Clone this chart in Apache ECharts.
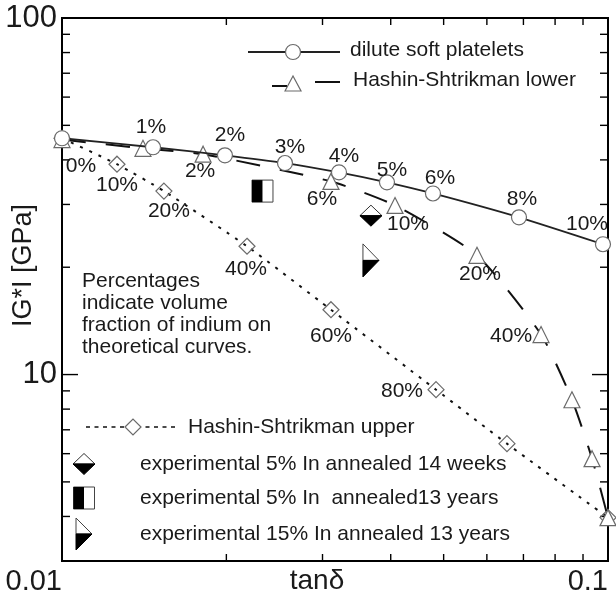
<!DOCTYPE html>
<html>
<head>
<meta charset="utf-8">
<script src="https://cdn.jsdelivr.net/npm/echarts@6/dist/echarts.min.js"></script>
<style>
html, body { margin: 0; padding: 0; background: #fff; }
#chart { width: 616px; height: 596px; }
</style>
</head>
<body>
<div id="chart"></div>
<script>
// |G*| (GPa) against tan(delta) for the three composite models
const diluteTan  = [0.0100, 0.01468, 0.01988, 0.02561, 0.03216, 0.03937, 0.0478, 0.0687, 0.0979];
const diluteG    = [46.0, 43.4, 41.2, 39.2, 36.9, 34.6, 32.2, 27.6, 23.2];
const diluteFrac = ['0%', '1%', '2%', '3%', '4%', '5%', '6%', '8%', '10%'];

const hsLowerTan  = [0.0100, 0.01407, 0.01813, 0.03109, 0.04073, 0.05755, 0.0754, 0.0859, 0.0935, 0.1000];
const hsLowerG    = [45.6, 43.1, 41.5, 34.8, 29.8, 21.6, 12.95, 8.5, 5.81, 3.97];
const hsLowerFrac = ['0%', '1%', '2%', '6%', '10%', '20%', '40%', '60%', '80%', '100%'];

const hsUpperTan  = [0.0100, 0.01261, 0.01537, 0.02182, 0.03109, 0.04842, 0.06531, 0.1000];
const hsUpperG    = [46.0, 38.9, 32.7, 22.9, 15.2, 9.07, 6.40, 3.97];
const hsUpperFrac = ['0%', '10%', '20%', '40%', '60%', '80%', '90%', '100%'];

// measured specimens [tan(delta), |G*|]
const exp5In14Weeks = [[0.0368, 27.9]];
const exp5In13Years = [[0.02329, 32.7]];
const exp15In13Years = [[0.0368, 20.9]];

// axis ranges and ticks
const xRange = [0.01, 0.1];
const yRange = [3, 100];
const xTickLabels = [0.01, 0.1];
const yTickLabels = [10, 100];
const xMinorTicks = [0.02, 0.03, 0.04, 0.05, 0.06, 0.07, 0.08, 0.09];
const yMinorTicks = [4, 5, 6, 7, 8, 9, 20, 30, 40, 50, 60, 70, 80, 90];
const yMajorTicks = [10];

// where each fraction label sits relative to its marker (px)
const labelOffsets = {
  dilute:  { '0%': [19, 28], '1%': [-2, -20], '2%': [5, -20], '3%': [5, -16], '4%': [5, -16],
             '5%': [5, -12], '6%': [7, -15], '8%': [3, -18], '10%': [-16, -20] },
  hsLower: { '2%': [-3, 17], '6%': [-9, 18], '10%': [13, 19], '20%': [3, 19], '40%': [-30, 2] },
  hsUpper: { '10%': [0, 21], '20%': [5, 20], '40%': [-1, 23], '60%': [0, 26], '80%': [-34, 2] }
};

const FONT = "'Liberation Sans', Arial, Helvetica, sans-serif";
const INK = '#1a1a1a';
const MARK = '#6a6a6a';

function points(tans, gs, fracs, offsets) {
  return tans.map((t, i) => {
    const off = offsets[fracs[i]];
    return {
      value: [t, gs[i]],
      label: off ? { show: true, position: 'inside', offset: off, formatter: fracs[i] } : { show: false }
    };
  });
}

function tickText(v, list) {
  for (const t of list) {
    if (Math.abs(Math.log10(v) - Math.log10(t)) < 1e-6) return String(t);
  }
  return '';
}

const labelStyle = { color: INK, fontSize: 21, fontFamily: FONT };

// minor/major tick marks drawn on both sides of the frame, pointing inwards
function xTickItem(len) {
  return function (params, api) {
    const v = api.value(0);
    const b = api.coord([v, yRange[0]]);
    const t = api.coord([v, yRange[1]]);
    const st = { stroke: '#000', lineWidth: 1.4 };
    return { type: 'group', children: [
      { type: 'line', shape: { x1: b[0], y1: b[1], x2: b[0], y2: b[1] - len }, style: st },
      { type: 'line', shape: { x1: t[0], y1: t[1], x2: t[0], y2: t[1] + len }, style: st }
    ]};
  };
}
function yTickItem(len) {
  return function (params, api) {
    const v = api.value(1);
    const l = api.coord([xRange[0], v]);
    const r = api.coord([xRange[1], v]);
    const st = { stroke: '#000', lineWidth: 1.4 };
    return { type: 'group', children: [
      { type: 'line', shape: { x1: l[0], y1: l[1], x2: l[0] + len, y2: l[1] }, style: st },
      { type: 'line', shape: { x1: r[0], y1: r[1], x2: r[0] - len, y2: r[1] }, style: st }
    ]};
  };
}

// half-filled specimen markers
function halfDiamond(params, api) {
  const p = api.coord([api.value(0), api.value(1)]);
  const w = 11, h = 10.5;
  return { type: 'group', children: [
    { type: 'polygon', shape: { points: [[p[0] - w, p[1]], [p[0], p[1] - h], [p[0] + w, p[1]]] },
      style: { fill: '#fff', stroke: '#333', lineWidth: 1 } },
    { type: 'polygon', shape: { points: [[p[0] - w, p[1]], [p[0] + w, p[1]], [p[0], p[1] + h]] },
      style: { fill: '#000', stroke: '#000', lineWidth: 1 } }
  ]};
}
function halfSquare(params, api) {
  const p = api.coord([api.value(0), api.value(1)]);
  const w = 10.5, h = 11;
  return { type: 'group', children: [
    { type: 'rect', shape: { x: p[0] - w, y: p[1] - h, width: 2 * w, height: 2 * h },
      style: { fill: '#fff', stroke: '#444', lineWidth: 1 } },
    { type: 'rect', shape: { x: p[0] - w, y: p[1] - h, width: w, height: 2 * h },
      style: { fill: '#000' } }
  ]};
}
function halfTriangle(params, api) {
  const p = api.coord([api.value(0), api.value(1)]);
  const w = 8, h = 16.5;
  return { type: 'group', children: [
    { type: 'polygon', shape: { points: [[p[0] - w, p[1] - h], [p[0] + w, p[1]], [p[0] - w, p[1]]] },
      style: { fill: '#fff', stroke: '#444', lineWidth: 1 } },
    { type: 'polygon', shape: { points: [[p[0] - w, p[1]], [p[0] + w, p[1]], [p[0] - w, p[1] + h]] },
      style: { fill: '#000', stroke: '#000', lineWidth: 1 } }
  ]};
}

// key entries
const txt = (text, x, y) => ({ type: 'text', x: x, y: y, z: 50,
  style: { text: text, font: '21px ' + FONT, fill: INK, verticalAlign: 'middle', align: 'left' } });

const legendGraphics = [
  // dilute soft platelets
  { type: 'line', z: 50, shape: { x1: 248, y1: 52, x2: 340, y2: 52 }, style: { stroke: '#222', lineWidth: 1.8 } },
  { type: 'circle', z: 51, shape: { cx: 293, cy: 52, r: 7.5 }, style: { fill: '#fff', stroke: MARK, lineWidth: 1.2 } },
  txt('dilute soft platelets', 350, 50),
  // Hashin-Shtrikman lower
  { type: 'line', z: 50, shape: { x1: 272, y1: 86, x2: 287, y2: 86 }, style: { stroke: '#111', lineWidth: 2 } },
  { type: 'polygon', z: 51, shape: { points: [[285, 91], [293, 76], [301, 91]] }, style: { fill: '#fff', stroke: MARK, lineWidth: 1.2 } },
  { type: 'line', z: 50, shape: { x1: 315, y1: 82, x2: 340, y2: 82 }, style: { stroke: '#111', lineWidth: 2 } },
  txt('Hashin-Shtrikman lower', 353, 80),
  // Hashin-Shtrikman upper
  { type: 'line', z: 50, shape: { x1: 86, y1: 427, x2: 176, y2: 427 }, style: { stroke: '#111', lineWidth: 1.6, lineDash: [4, 4.5] } },
  { type: 'polygon', z: 51, shape: { points: [[125, 427], [133, 419], [141, 427], [133, 435]] }, style: { fill: '#fff', stroke: MARK, lineWidth: 1.2 } },
  txt('Hashin-Shtrikman upper', 188, 427),
  // specimens
  { type: 'polygon', z: 51, shape: { points: [[73, 464], [84, 453.5], [95, 464]] }, style: { fill: '#fff', stroke: '#333', lineWidth: 1 } },
  { type: 'polygon', z: 51, shape: { points: [[73, 464], [95, 464], [84, 474.5]] }, style: { fill: '#000', stroke: '#000', lineWidth: 1 } },
  txt('experimental 5% In annealed 14 weeks', 140, 464),
  { type: 'rect', z: 51, shape: { x: 73.5, y: 487, width: 21, height: 22 }, style: { fill: '#fff', stroke: '#444', lineWidth: 1 } },
  { type: 'rect', z: 52, shape: { x: 73.5, y: 487, width: 10.5, height: 22 }, style: { fill: '#000' } },
  txt('experimental 5% In  annealed13 years', 140, 498),
  { type: 'polygon', z: 51, shape: { points: [[76, 518], [92, 534], [76, 534]] }, style: { fill: '#fff', stroke: '#444', lineWidth: 1 } },
  { type: 'polygon', z: 51, shape: { points: [[76, 534], [92, 534], [76, 550]] }, style: { fill: '#000', stroke: '#000', lineWidth: 1 } },
  txt('experimental 15% In annealed 13 years', 140, 534),
  // note
  { type: 'text', x: 82, y: 270, z: 50,
    style: { text: 'Percentages\nindicate volume\nfraction of indium on\ntheoretical curves.',
             font: '21px ' + FONT, fill: INK, lineHeight: 22, align: 'left', verticalAlign: 'top' } }
];

const chart = echarts.init(document.getElementById('chart'), null, { renderer: 'canvas' });
chart.setOption({
  animation: false,
  backgroundColor: '#fff',
  grid: {
    left: 62, right: 8, top: 18, bottom: 35, containLabel: false, outerBoundsMode: 'none',
    show: true, borderColor: '#000', borderWidth: 2, backgroundColor: 'transparent'
  },
  xAxis: {
    type: 'log', logBase: 10, min: xRange[0], max: xRange[1],
    axisLine: { show: false }, axisTick: { show: false }, splitLine: { show: false }, minorTick: { show: false },
    axisLabel: {
      margin: 6, color: INK, fontSize: 29, fontFamily: FONT, align: 'right',
      formatter: v => tickText(v, xTickLabels)
    },
    name: 'tan\u03b4', nameLocation: 'middle', nameGap: 6, nameMoveOverlap: false,
    nameTextStyle: { color: INK, fontSize: 28, fontFamily: FONT, padding: [0, 36, 0, 0] }
  },
  yAxis: {
    type: 'log', logBase: 10, min: yRange[0], max: yRange[1],
    axisLine: { show: false }, axisTick: { show: false }, splitLine: { show: false }, minorTick: { show: false },
    axisLabel: {
      margin: 5, color: INK, fontSize: 31, fontFamily: FONT,
      formatter: v => tickText(v, yTickLabels)
    },
    name: 'IG*I [GPa]', nameLocation: 'middle', nameRotate: 90, nameGap: 25, nameMoveOverlap: false,
    nameTextStyle: { color: INK, fontSize: 27, fontFamily: FONT, padding: [0, 0, 0, 48] }
  },
  graphic: legendGraphics,
  series: [
    { type: 'custom', name: 'x minor ticks', renderItem: xTickItem(7), data: xMinorTicks.map(v => [v, yRange[0]]), silent: true, z: 1 },
    { type: 'custom', name: 'y minor ticks', renderItem: yTickItem(8), data: yMinorTicks.map(v => [xRange[0], v]), silent: true, z: 1 },
    { type: 'custom', name: 'y major ticks', renderItem: yTickItem(16), data: yMajorTicks.map(v => [xRange[0], v]), silent: true, z: 1 },
    {
      type: 'line', name: 'Hashin-Shtrikman upper', z: 2,
      data: points(hsUpperTan, hsUpperG, hsUpperFrac, labelOffsets.hsUpper),
      smooth: 0.2, symbol: 'diamond', symbolSize: 16,
      lineStyle: { color: '#111', width: 2, type: [3, 7] },
      itemStyle: { color: 'rgba(255,255,255,0)', borderColor: MARK, borderWidth: 1.2 },
      label: labelStyle
    },
    {
      type: 'line', name: 'Hashin-Shtrikman lower', z: 3,
      data: points(hsLowerTan, hsLowerG, hsLowerFrac, labelOffsets.hsLower),
      smooth: 0.2, symbol: 'triangle', symbolSize: 16,
      lineStyle: { color: '#111', width: 2, type: [24, 20] },
      itemStyle: { color: '#fff', borderColor: MARK, borderWidth: 1.2 },
      label: labelStyle
    },
    {
      type: 'line', name: 'dilute soft platelets', z: 4,
      data: points(diluteTan, diluteG, diluteFrac, labelOffsets.dilute),
      smooth: 0.2, symbol: 'circle', symbolSize: 15,
      lineStyle: { color: '#222', width: 1.8 },
      itemStyle: { color: '#fff', borderColor: MARK, borderWidth: 1.2 },
      label: labelStyle
    },
    { type: 'custom', name: 'experimental 5% In annealed 14 weeks', renderItem: halfDiamond, data: exp5In14Weeks, z: 5 },
    { type: 'custom', name: 'experimental 5% In annealed 13 years', renderItem: halfSquare, data: exp5In13Years, z: 5 },
    { type: 'custom', name: 'experimental 15% In annealed 13 years', renderItem: halfTriangle, data: exp15In13Years, z: 5 }
  ]
});
</script>
</body>
</html>
